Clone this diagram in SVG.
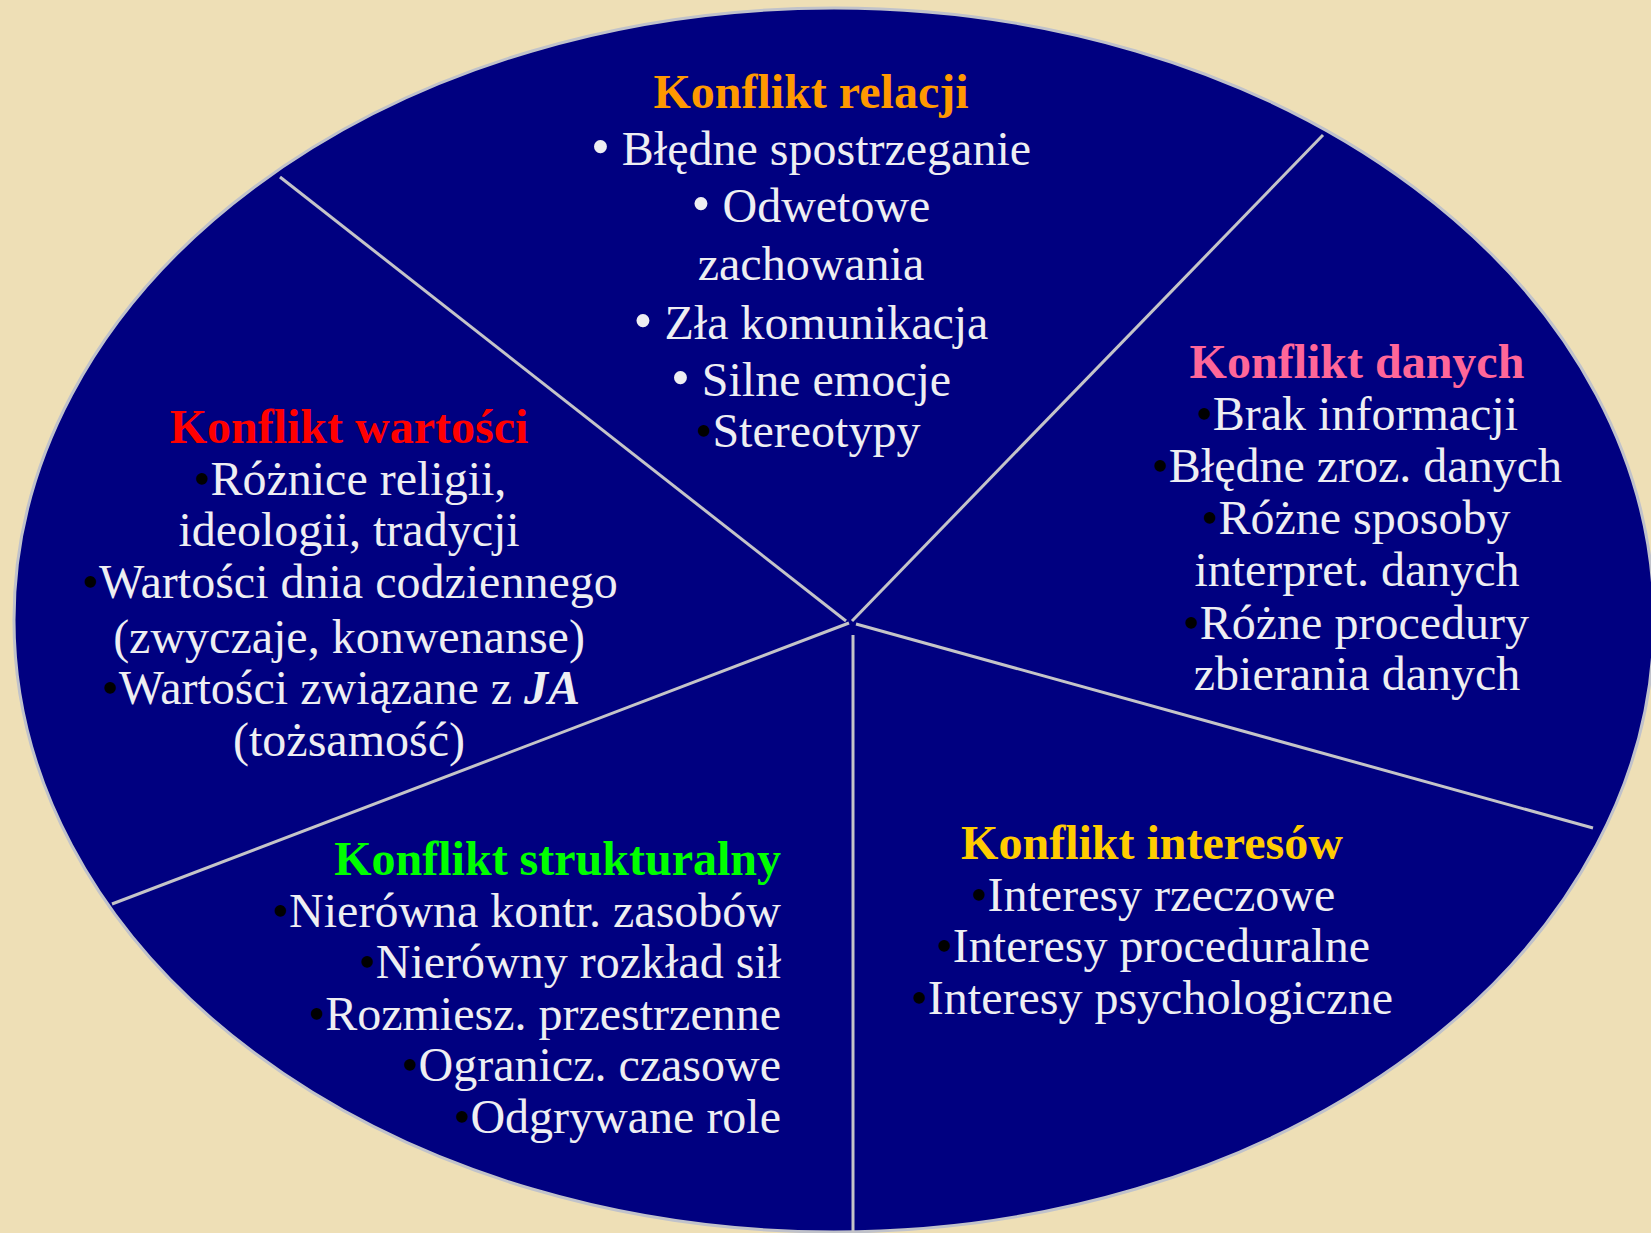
<svg xmlns="http://www.w3.org/2000/svg" width="1651" height="1233" viewBox="0 0 1651 1233">
  <style>
    .t { font-family: "Liberation Serif", "Times New Roman", serif; font-size: 48px; fill: #EEEEF2; }
    .h { font-weight: bold; }
    .mid { text-anchor: middle; }
    .end { text-anchor: end; }
    .b { fill: #000000; }
    .w { font-size: 54px; }
    .spoke { stroke: #C4C4C8; stroke-width: 3; fill: none; }
  </style>
  <rect id="background" x="0" y="0" width="1651" height="1233" fill="#EEDFB6"/>
  <ellipse id="disc" cx="834" cy="620" rx="820" ry="612" fill="#000080" stroke="#C0C2CA" stroke-width="3"/>

  <g id="connectors">
    <line class="spoke" x1="280" y1="177" x2="846" y2="621"/>
    <line class="spoke" x1="1323" y1="135" x2="852" y2="621"/>
    <line class="spoke" x1="112" y1="904" x2="849" y2="623"/>
    <line class="spoke" x1="856" y1="624" x2="1593" y2="828"/>
    <line class="spoke" x1="853" y1="635" x2="853" y2="1233"/>
  </g>

  <g id="konflikt-relacji">
    <text class="t h mid" x="811" y="108" style="fill:#FF9900">Konflikt relacji</text>
    <text class="t mid" x="811" y="165"><tspan class="w">•</tspan> Błędne spostrzeganie</text>
    <text class="t mid" x="811" y="222"><tspan class="w">•</tspan> Odwetowe</text>
    <text class="t mid" x="811" y="280">zachowania</text>
    <text class="t mid" x="811" y="339"><tspan class="w">•</tspan> Zła komunikacja</text>
    <text class="t mid" x="811" y="396"><tspan class="w">•</tspan> Silne emocje</text>
    <text class="t mid" x="808" y="447"><tspan class="b">•</tspan>Stereotypy</text>
  </g>

  <g id="konflikt-wartosci">
    <text class="t h mid" x="349" y="443" style="fill:#FF0000">Konflikt wartości</text>
    <text class="t mid" x="350" y="495"><tspan class="b">•</tspan>Różnice religii,</text>
    <text class="t mid" x="349" y="546">ideologii, tradycji</text>
    <text class="t mid" x="350" y="598"><tspan class="b">•</tspan>Wartości dnia codziennego</text>
    <text class="t mid" x="349" y="653">(zwyczaje, konwenanse)</text>
    <text class="t mid" x="341" y="704"><tspan class="b">•</tspan>Wartości związane z <tspan font-weight="bold" font-style="italic">JA</tspan></text>
    <text class="t mid" x="349" y="756">(tożsamość)</text>
  </g>

  <g id="konflikt-danych">
    <text class="t h mid" x="1357" y="378" style="fill:#FF6699">Konflikt danych</text>
    <text class="t mid" x="1357" y="430"><tspan class="b">•</tspan>Brak informacji</text>
    <text class="t mid" x="1357" y="482"><tspan class="b">•</tspan>Błędne zroz. danych</text>
    <text class="t mid" x="1356" y="534"><tspan class="b">•</tspan>Różne sposoby</text>
    <text class="t mid" x="1357" y="586">interpret. danych</text>
    <text class="t mid" x="1356" y="639"><tspan class="b">•</tspan>Różne procedury</text>
    <text class="t mid" x="1357" y="690">zbierania danych</text>
  </g>

  <g id="konflikt-interesow">
    <text class="t h mid" x="1152" y="859" style="fill:#FFCC00">Konflikt interesów</text>
    <text class="t mid" x="1153" y="911"><tspan class="b">•</tspan>Interesy rzeczowe</text>
    <text class="t mid" x="1153" y="962"><tspan class="b">•</tspan>Interesy proceduralne</text>
    <text class="t mid" x="1152" y="1014"><tspan class="b">•</tspan>Interesy psychologiczne</text>
  </g>

  <g id="konflikt-strukturalny">
    <text class="t h end" x="781" y="875" style="fill:#00FF00">Konflikt strukturalny</text>
    <text class="t end" x="781" y="927"><tspan class="b">•</tspan>Nierówna kontr. zasobów</text>
    <text class="t end" x="781" y="978"><tspan class="b">•</tspan>Nierówny rozkład sił</text>
    <text class="t end" x="781" y="1030"><tspan class="b">•</tspan>Rozmiesz. przestrzenne</text>
    <text class="t end" x="781" y="1081"><tspan class="b">•</tspan>Ogranicz. czasowe</text>
    <text class="t end" x="781" y="1133"><tspan class="b">•</tspan>Odgrywane role</text>
  </g>
</svg>
